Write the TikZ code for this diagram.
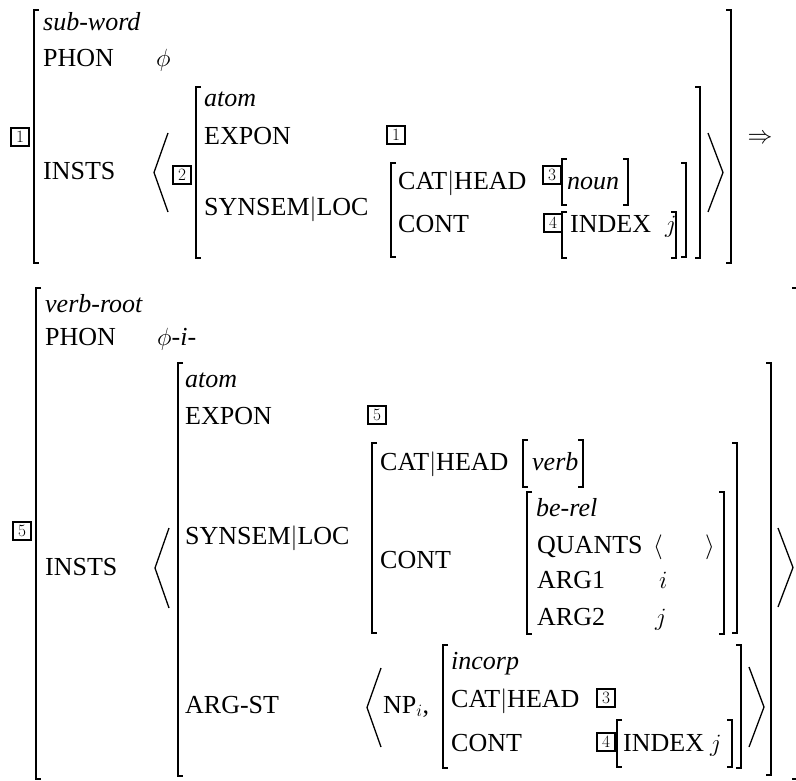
\documentclass[tikz,border=0pt]{standalone}
\usepackage[no-math]{fontspec}
\setmainfont{Liberation Serif}
\tikzset{
  txt/.style={anchor=base west, inner sep=0pt, font=\fontsize{26}{30}\selectfont},
  sym/.style={inner sep=0pt, font=\fontsize{26}{30}\selectfont},
  brk/.style={line width=1.8pt},
  ang/.style={line width=1.3pt},
  tagbox/.style={draw, line width=2pt, minimum width=18pt, minimum height=18pt, inner sep=0pt, font=\fontsize{17}{17}\selectfont},
}
\newcommand\avmL[3]{\draw[brk] ({#1+5},#2) -- (#1,#2) -- (#1,#3) -- ({#1+5},#3);}
\newcommand\avmR[3]{\draw[brk] ({#1-5},#2) -- (#1,#2) -- (#1,#3) -- ({#1-5},#3);}
\newcommand\avmLA[3]{\draw[ang] ({#1+14},#2) -- (#1,{(#2+#3)/2}) -- ({#1+14},#3);}
\newcommand\avmRA[3]{\draw[ang] (#1,#2) -- ({#1+15},{(#2+#3)/2}) -- (#1,#3);}
\begin{document}
\begin{tikzpicture}[x=1pt,y=-1pt]
\useasboundingbox (0,0) rectangle (796,781);
% ================= top AVM =================
\avmL{34}{10}{263}   \avmR{731}{10}{263}
\avmL{196}{87}{258}  \avmR{700}{87}{258}
\avmL{391}{163}{257} \avmR{686}{163}{257}
\avmL{562}{159}{205} \avmR{628}{159}{205}
\avmL{562}{212}{258} \avmR{676}{212}{258}
\avmLA{154}{133}{212}
\avmRA{708}{133}{212}
\node[txt] (a1) at (43,31) {\textit{sub-word}};
\node[txt] (a2) at (43,67) {PHON};
\node[txt] (a3) at (156,67) {$\phi$};
\node[txt] (a4) at (43,180) {INSTS};
\node[txt] (a5) at (204,107) {\textit{atom}};
\node[txt] (a6) at (204,145) {EXPON};
\node[txt] (a7) at (204,215) {SYNSEM$|$LOC};
\node[txt] (a8) at (398,190) {CAT$|$HEAD};
\node[txt] (a9) at (398,233) {CONT};
\node[txt] (a10) at (567,190) {\textit{noun}};
\node[txt] (a11) at (570,233) {INDEX};
\node[txt] (a12) at (665,233) {$j$};
\node[tagbox] (ta1) at (20,137) {$1$};
\node[tagbox] (ta2) at (182,175) {$2$};
\node[tagbox] (ta3) at (396,135) {$1$};
\node[tagbox] (ta4) at (552,175) {$3$};
\node[tagbox] (ta5) at (553,223) {$4$};
\node[sym] (arr) at (760,139) {$\Rightarrow$};
% ================= bottom AVM =================
\avmL{36}{288}{779}  \avmR{797}{288}{779}
\avmL{178}{363}{776} \avmR{771}{363}{775}
\avmL{372}{443}{633} \avmR{737}{443}{633}
\avmL{523}{440}{487} \avmR{583}{440}{487}
\avmL{527}{492}{634} \avmR{724}{492}{634}
\avmL{443}{645}{768} \avmR{741}{645}{768}
\avmL{617}{720}{767} \avmR{732}{720}{767}
\avmLA{155}{528}{608}
\avmRA{778}{528}{607}
\avmLA{367}{668}{747}
\avmRA{749}{667}{747}
\node[txt] (b1) at (45,312) {\textit{verb-root}};
\node[txt] (b2) at (45,345) {PHON};
\node[txt] (b3) at (157,345) {$\phi$-\textit{i}-};
\node[txt] (b4) at (45,575) {INSTS};
\node[txt] (b5) at (185,387) {\textit{atom}};
\node[txt] (b6) at (185,424) {EXPON};
\node[txt] (b7) at (185,544) {SYNSEM$|$LOC};
\node[txt] (b8) at (380,470) {CAT$|$HEAD};
\node[txt] (b9) at (532,470) {\textit{verb}};
\node[txt] (b10) at (380,568) {CONT};
\node[txt] (b11) at (536,516) {\textit{be-rel}};
\node[txt] (b12) at (537,553) {QUANTS};
\node[txt] (b13) at (653,553) {$\langle$};
\node[txt] (b14) at (705,553) {$\rangle$};
\node[txt] (b15) at (537,588) {ARG1};
\node[txt] (b16) at (659,588) {$i$};
\node[txt] (b17) at (537,625) {ARG2};
\node[txt] (b18) at (655,625) {$j$};
\node[txt] (b19) at (185,713) {ARG-ST};
\node[txt] (b20) at (383,713) {NP$_i$,};
\node[txt] (b21) at (451,669) {\textit{incorp}};
\node[txt] (b22) at (451,707) {CAT$|$HEAD};
\node[txt] (b23) at (451,751) {CONT};
\node[txt] (b24) at (623,751) {INDEX};
\node[txt] (b25) at (710,751) {$j$};
\node[tagbox] (tb1) at (22,531) {$5$};
\node[tagbox] (tb2) at (377,415) {$5$};
\node[tagbox] (tb3) at (606,698) {$3$};
\node[tagbox] (tb4) at (606,742) {$4$};
\end{tikzpicture}
\end{document}
